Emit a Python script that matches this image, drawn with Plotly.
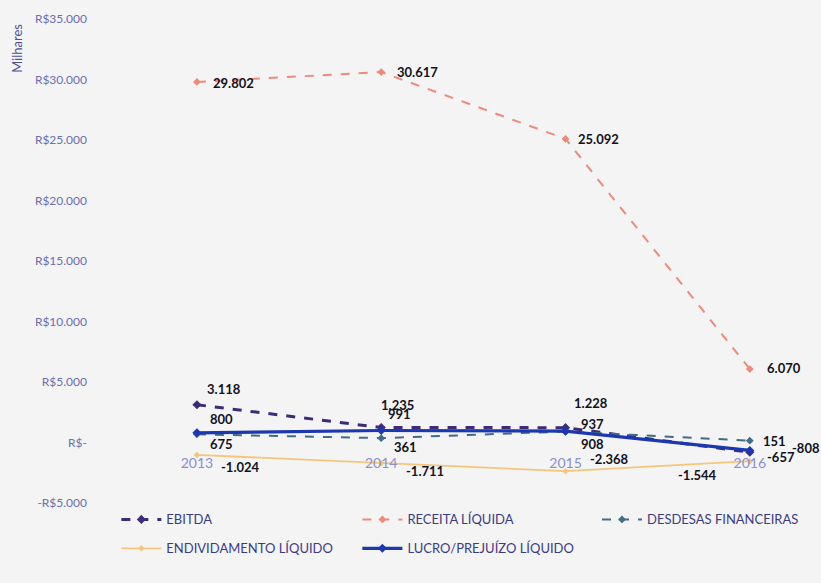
import plotly.graph_objects as go

years = ["2013", "2014", "2015", "2016"]
ebitda = [3118, 1235, 1228, -808]
receita = [29802, 30617, 25092, 6070]
despesas = [675, 361, 908, 151]
endividamento = [-1024, -1711, -2368, -1544]
lucro = [800, 991, 937, -657]

y_tickvals = [-5000, 0, 5000, 10000, 15000, 20000, 25000, 30000, 35000]
y_ticktext = ["-R$5.000", "R$-", "R$5.000", "R$10.000", "R$15.000",
              "R$20.000", "R$25.000", "R$30.000", "R$35.000"]


def fmt(v):
    return f"{v:,}".replace(",", ".")


series = [
    dict(name="EBITDA", y=ebitda, color="#3d2b7a", width=3, dash="dash", msize=7, legend="legend"),
    dict(name="RECEITA LÍQUIDA", y=receita, color="#f08a78", width=2, dash="dash", msize=6, legend="legend2"),
    dict(name="DESDESAS FINANCEIRAS", y=despesas, color="#3f6d85", width=2, dash="dash", msize=6, legend="legend3"),
    dict(name="ENDIVIDAMENTO LÍQUIDO", y=endividamento, color="#f5c57a", width=1.8, dash="solid", msize=5, legend="legend"),
    dict(name="LUCRO/PREJUÍZO LÍQUIDO", y=lucro, color="#1c38b0", width=3.2, dash="solid", msize=7, legend="legend2"),
]

# label pixel offsets (dx, dy) relative to each point (dy positive = down in px)
label_offsets = {
    "EBITDA": [(27, -16), (16, -23), (25, -25), (56, -4)],
    "RECEITA LÍQUIDA": [(37, 1), (36, 0), (33, 0), (34, -1)],
    "DESDESAS FINANCEIRAS": [(25, 10), (24, 9), (27, 12), (25, 0)],
    "ENDIVIDAMENTO LÍQUIDO": [(44, 12), (44, 8), (44, -12), (-52, 14)],
    "LUCRO/PREJUÍZO LÍQUIDO": [(25, -14), (18, -17), (27, -7), (31, 7)],
}

fig = go.Figure()
for s in series:
    fig.add_trace(go.Scatter(
        x=years, y=s["y"], name=s["name"], mode="lines+markers",
        line=dict(color=s["color"], width=s["width"], dash=s["dash"]),
        marker=dict(symbol="diamond", size=s["msize"], color=s["color"]),
        cliponaxis=False, legend=s["legend"], legendgroup=s["name"],
    ))

annotations = []
for s in series:
    for i, v in enumerate(s["y"]):
        dx, dy = label_offsets[s["name"]][i]
        annotations.append(dict(
            x=i, y=v, xref="x", yref="y", text=fmt(v), showarrow=False,
            xshift=dx, yshift=-dy,
            font=dict(family="Lato", size=13, color="#111122", weight=700),
        ))

annotations.append(dict(
    x=-0.117, y=0.94, xref="paper", yref="paper", text="Milhares", showarrow=False,
    textangle=-90, xanchor="center", yanchor="middle",
    font=dict(family="Lato", size=13, color="#4a4f9a"),
))

legend_common = dict(
    orientation="v", xanchor="left", yanchor="top", y=-0.003,
    itemwidth=40, tracegroupgap=9,
    font=dict(family="Lato", size=13, color="#3b3b85"),
    bgcolor="rgba(0,0,0,0)",
)

fig.update_layout(
    width=821, height=583,
    margin=dict(l=100, r=10, t=19, b=80),
    paper_bgcolor="#f4f4f4",
    plot_bgcolor="#f4f4f4",
    font=dict(family="Lato", color="#3a3470"),
    showlegend=True,
    legend=dict(x=0.023, **legend_common),
    legend2=dict(x=0.362, **legend_common),
    legend3=dict(x=0.699, **legend_common),
    xaxis=dict(
        type="category", range=[-0.526, 3.332],
        showgrid=False, showline=False, zeroline=False, ticks="",
        anchor="free", position=0.125, ticklabelstandoff=10,
        tickfont=dict(family="Lato", size=14, color="#8a8fd0"),
        fixedrange=True, automargin=False,
    ),
    yaxis=dict(
        range=[-5000, 35000], tickvals=y_tickvals, ticktext=y_ticktext,
        showgrid=False, zeroline=False, showline=False, ticks="",
        tickfont=dict(family="Lato", size=12, color="#6a6fb0"),
        ticklabelstandoff=12, automargin=False,
    ),
    annotations=annotations,
)

fig.write_html(
    "out.html",
    config={"displayModeBar": False},
    post_script="document.body.style.margin='0';document.body.style.background='#f4f4f4';",
)
